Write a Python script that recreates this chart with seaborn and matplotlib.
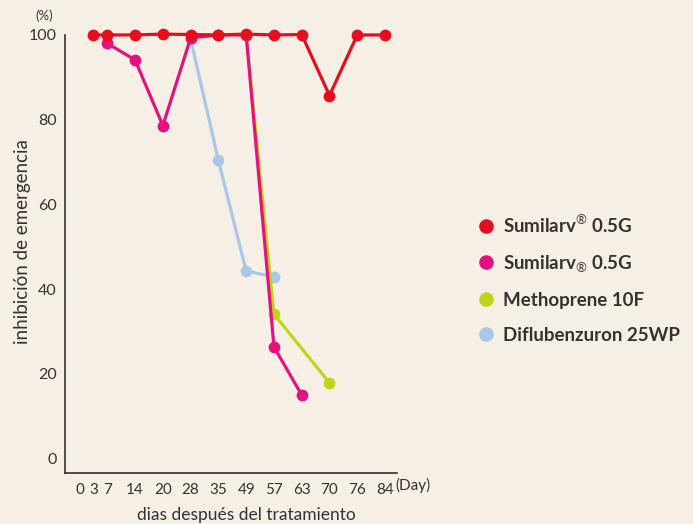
import numpy as np
import pandas as pd
import matplotlib.pyplot as plt
import seaborn as sns
from matplotlib.lines import Line2D

# days on the axis and their (non-linear) slot on the drawn scale
days = [0, 3, 7, 14, 20, 28, 35, 49, 57, 63, 70, 76, 84]
slots = [0, 1, 2, 4, 6, 8, 10, 12, 14, 16, 18, 20, 22]

red_days = [3, 7, 14, 20, 28, 35, 49, 57, 63, 70, 76, 84]
red_vals = [100, 100, 100, 100.2, 100.1, 100, 100.2, 100, 100.1, 85.7, 100, 100]
mag_days = [7, 14, 20, 28, 35, 49, 57, 63]
mag_vals = [98.0, 94.1, 78.6, 99.3, 100, 100, 26.4, 15.0]
met_days = [49, 57, 70]
met_vals = [100, 34.1, 17.9]
dif_days = [28, 35, 49, 57]
dif_vals = [99.0, 70.4, 44.3, 42.9]

names = ["Sumilarv$^{®}$ 0.5G", "Sumilarv$_{®}$ 0.5G", "Methoprene 10F", "Diflubenzuron 25WP"]
colors = ["#E50E1C", "#E4127F", "#C3D31C", "#A9C8E8"]

slot_of = dict(zip(days, slots))
frames = []
for nm, d, v in zip(names, [red_days, mag_days, met_days, dif_days],
                    [red_vals, mag_vals, met_vals, dif_vals]):
    frames.append(pd.DataFrame({"pos": [slot_of[x] for x in d], "value": v, "product": nm}))
df = pd.concat(frames, ignore_index=True)

bg = "#F6EFE6"
ink = "#333333"
sns.set_style("white", rc={"axes.facecolor": bg, "figure.facecolor": bg})
plt.rcParams["font.family"] = ["Lato", "DejaVu Sans"]
plt.rcParams["mathtext.fontset"] = "custom"
plt.rcParams["mathtext.rm"] = "Lato"

fig = plt.figure(figsize=(6.93, 5.24), dpi=100)
ax = fig.add_axes([0.0938, 0.0973, 0.479, 0.836])

palette = dict(zip(names, colors))
draw_order = names[::-1]  # red on top
sns.lineplot(
    data=df, x="pos", y="value", hue="product", hue_order=draw_order,
    palette=palette, marker="o", markersize=8.5, markeredgewidth=0,
    linewidth=2.3, legend=False, ax=ax, clip_on=False
)

ax.set_xlim(-1.05, 22.86)
ax.set_ylim(-3.4, 100)
ax.set_xticks(range(23), minor=True)
ax.set_xticks(slots)
ax.set_xticklabels([str(d) for d in days])
ax.tick_params(axis="x", which="minor", direction="in", length=5, width=1, color=ink)
ax.tick_params(axis="x", which="major", length=0, pad=7, labelsize=11, labelcolor=ink)
ax.set_yticks([0, 20, 40, 60, 80, 100])
ax.tick_params(axis="y", direction="in", length=5, width=1, color=ink, pad=6,
               labelsize=11.5, labelcolor=ink)
for s in ["top", "right"]:
    ax.spines[s].set_visible(False)
for s in ["left", "bottom"]:
    ax.spines[s].set_color(ink)
    ax.spines[s].set_linewidth(1.2)

ax.set_xlabel("dias después del tratamiento", fontsize=12.5, color=ink, va="center")
ax.xaxis.set_label_coords((246 - 65) / 332, -(515 - 473) / 438)
ax.set_ylabel("inhibición de emergencia", fontsize=13.5, color=ink, va="center")
ax.yaxis.set_label_coords(-(65 - 22) / 332, (473 - 242) / 438)
fig.text(44 / 693, 1 - 16 / 524, "(%)", ha="center", va="center", fontsize=9.5, color=ink)
fig.text(395 / 693, 1 - 485 / 524, "(Day)", ha="left", va="center", fontsize=11, color=ink)

handles = [Line2D([], [], marker="o", linestyle="", markersize=10.5,
                  markeredgewidth=0, color=c) for c in colors]
fig.legend(handles, names, loc="center left", bbox_to_anchor=(0.663, 0.468),
           frameon=False, handlelength=1.0, handletextpad=0.4, labelspacing=0.95,
           prop={"size": 13.5, "weight": "bold"}, labelcolor=ink)

fig.savefig("out.png", dpi=100, facecolor=bg)
